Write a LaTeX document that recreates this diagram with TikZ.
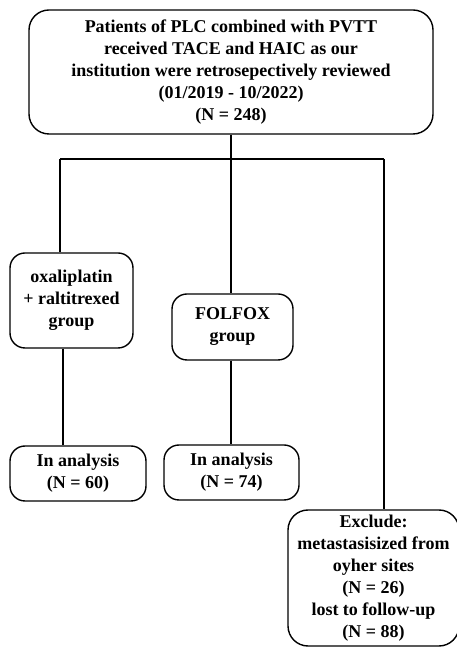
\documentclass[tikz,border=0pt]{standalone}
\usepackage{fontspec}
\setmainfont{Liberation Serif}
\begin{document}
\begin{tikzpicture}
[x=1pt,y=1pt,
  boxdecorate/.style={shape=rectangle,rounded corners=15pt,draw,line width=1.4pt,
    align=center,inner sep=0pt,font=\bfseries\fontsize{18}{22}\selectfont},%
  linedecorate/.style={-,line width=1.4pt}]
\useasboundingbox (0,0) rectangle (457,647);
% nodes or boxes
\node (top) at (231,575) [boxdecorate,rounded corners=20pt,minimum width=404pt,minimum height=124pt]
  {Patients of PLC combined with PVTT\\received TACE and HAIC as our\\institution were retrosepectively reviewed\\(01/2019 - 10/2022)\\(N = 248)};
\node (oxa) at (71.5,346.5) [boxdecorate,minimum width=123pt,minimum height=95pt]
  {oxaliplatin\\+ raltitrexed\\group};
\node (folfox) at (232.5,320) [boxdecorate,minimum width=121pt,minimum height=66pt]
  {FOLFOX\\group};
\node (anaL) at (78,173.5) [boxdecorate,minimum width=136pt,minimum height=55pt]
  {In analysis\\(N = 60)};
\node (anaM) at (231.5,174.5) [boxdecorate,minimum width=135pt,minimum height=55pt]
  {In analysis\\(N = 74)};
\node (excl) at (373.5,69) [boxdecorate,rounded corners=20pt,minimum width=171pt,minimum height=136pt]
  {Exclude:\\metastasisized from\\oyher sites\\(N = 26)\\lost to follow-up\\(N = 88)};
% branch points
\coordinate (split) at (231,488);
\coordinate (lbend) at (60,488);
\coordinate (rbend) at (384,488);
\coordinate (oxaout) at ([xshift=-8.5pt]oxa.south);
% edges or lines
\draw[linedecorate] (top.south) -- (split);
\draw[linedecorate] (lbend) -- (rbend);
\draw[linedecorate] (lbend) -- (lbend |- oxa.north);
\draw[linedecorate] (split) -- (split |- folfox.north);
\draw[linedecorate] (rbend) -- (rbend |- excl.north);
\draw[linedecorate] (oxaout) -- (oxaout |- anaL.north);
\draw[linedecorate] (folfox.south -| split) -- (split |- anaM.north);
\end{tikzpicture}
\end{document}
